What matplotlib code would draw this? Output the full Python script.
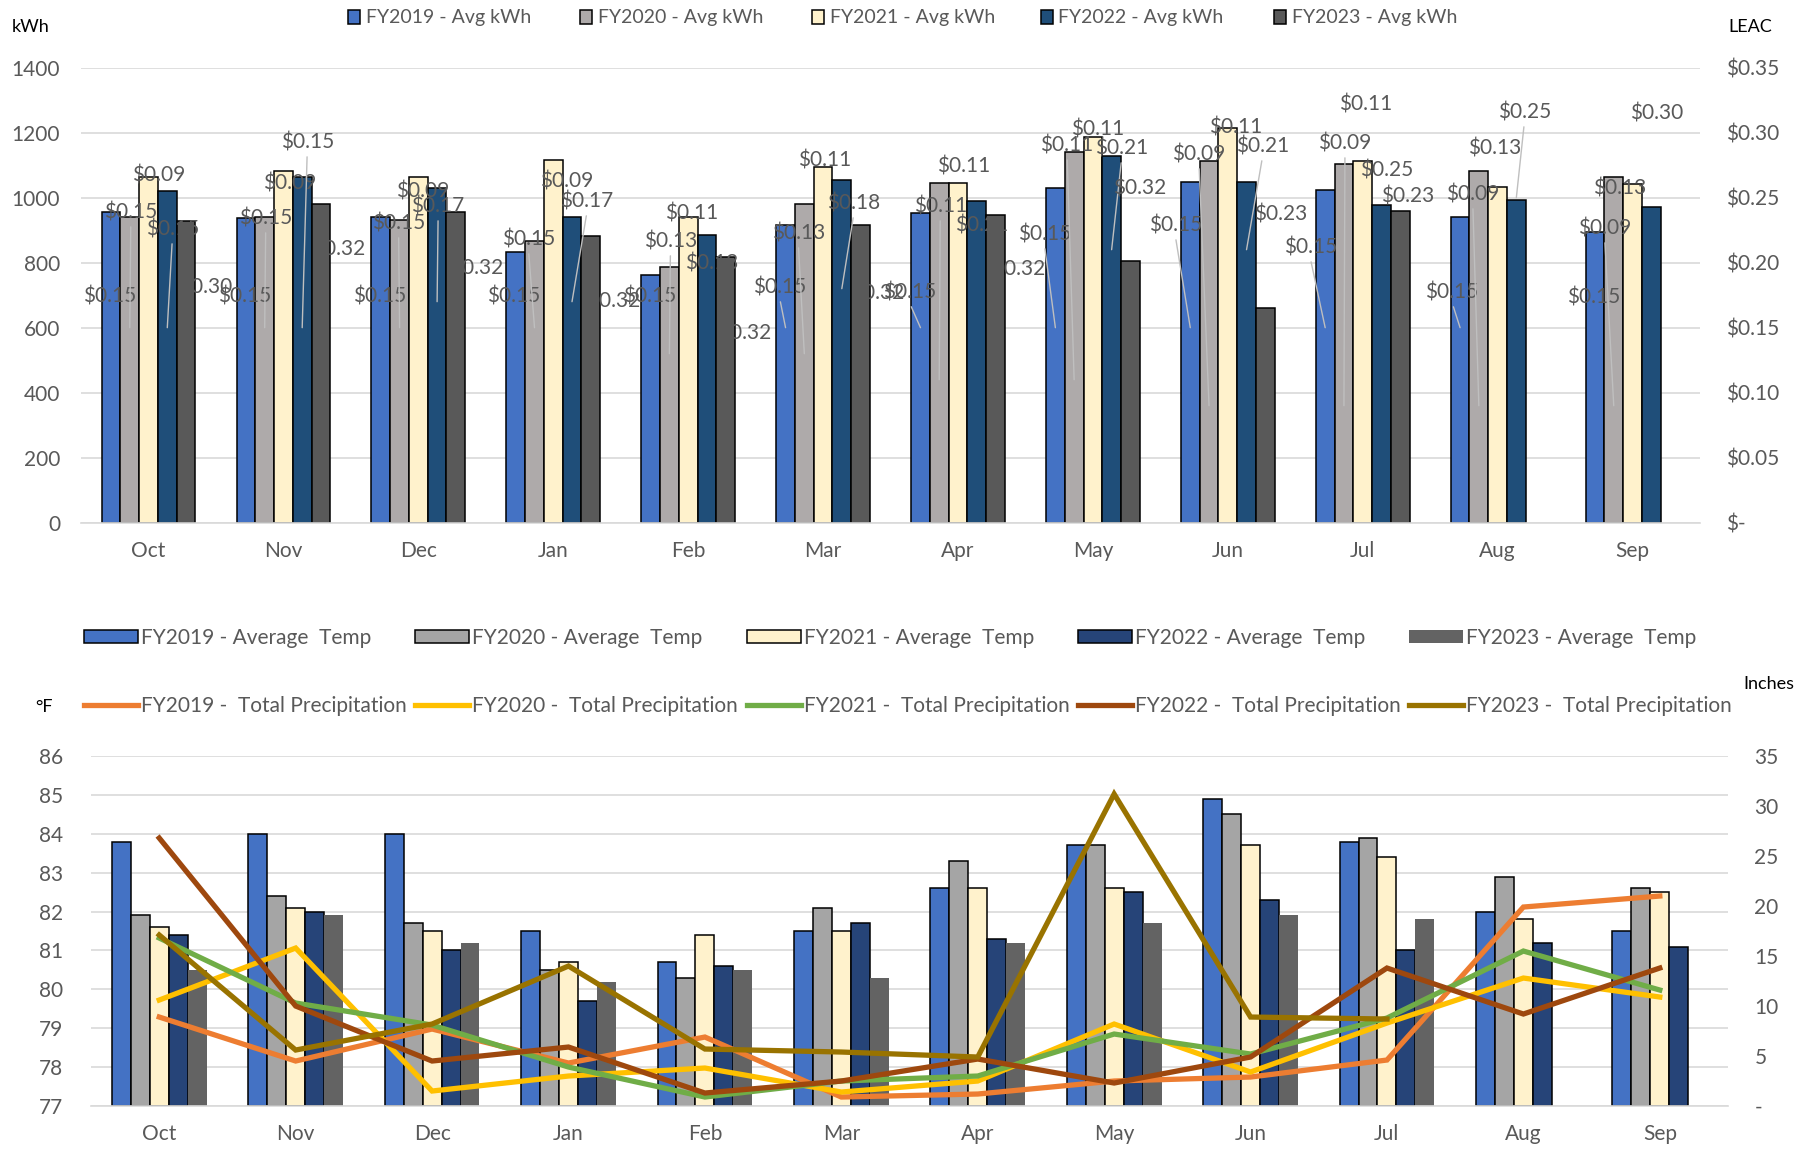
import matplotlib.pyplot as plt
import numpy as np

plt.rcParams['font.family'] = ['Lato', 'DejaVu Sans']

nan = np.nan
months = ['Oct', 'Nov', 'Dec', 'Jan', 'Feb', 'Mar', 'Apr', 'May', 'Jun', 'Jul', 'Aug', 'Sep']
years = ['FY2019', 'FY2020', 'FY2021', 'FY2022', 'FY2023']

# --- top chart: average kWh per month (left axis)
kwh_2019 = [957, 938, 941, 832, 762, 916, 952, 1029, 1049, 1023, 941, 895]
kwh_2020 = [941, 940, 931, 868, 786, 980, 1046, 1141, 1114, 1104, 1082, 1063]
kwh_2021 = [1065, 1083, 1063, 1116, 940, 1093, 1046, 1186, 1215, 1114, 1032, 1043]
kwh_2022 = [1021, 1065, 1029, 941, 884, 1053, 991, 1128, 1049, 978, 992, 972]
kwh_2023 = [929, 980, 957, 882, 818, 916, 947, 805, 661, 960, nan, nan]

# LEAC ($) shown only as data labels (right axis)
leac_2019 = [0.15, 0.15, 0.15, 0.15, 0.15, 0.15, 0.15, 0.15, 0.15, 0.15, 0.15, 0.15]
leac_2020 = [0.15, 0.15, 0.15, 0.15, 0.13, 0.13, 0.11, 0.11, 0.09, 0.09, 0.09, 0.09]
leac_2021 = [0.09, 0.09, 0.09, 0.09, 0.11, 0.11, 0.11, 0.11, 0.11, 0.11, 0.13, 0.13]
leac_2022 = [0.15, 0.15, 0.17, 0.17, 0.18, 0.18, 0.21, 0.21, 0.21, 0.25, 0.25, 0.30]
leac_2023 = [0.30, 0.32, 0.32, 0.32, 0.32, 0.32, 0.32, 0.32, 0.23, 0.23, nan, nan]

# --- bottom chart: average temp (left axis) and total precipitation (right axis)
temp_2019 = [83.8, 84.0, 84.0, 81.5, 80.7, 81.5, 82.6, 83.7, 84.9, 83.8, 82.0, 81.5]
temp_2020 = [81.9, 82.4, 81.7, 80.5, 80.3, 82.1, 83.3, 83.7, 84.5, 83.9, 82.9, 82.6]
temp_2021 = [81.6, 82.1, 81.5, 80.7, 81.4, 81.5, 82.6, 82.6, 83.7, 83.4, 81.8, 82.5]
temp_2022 = [81.4, 82.0, 81.0, 79.7, 80.6, 81.7, 81.3, 82.5, 82.3, 81.0, 81.2, 81.1]
temp_2023 = [80.5, 81.9, 81.2, 80.2, 80.5, 80.3, 81.2, 81.7, 81.9, 81.8, nan, nan]

precip_2019 = [8.9, 4.5, 7.7, 4.3, 6.9, 0.9, 1.2, 2.5, 2.9, 4.6, 19.9, 21.0]
precip_2020 = [10.6, 15.8, 1.5, 3.0, 3.8, 1.4, 2.5, 8.2, 3.4, 8.3, 12.8, 10.9]
precip_2021 = [16.8, 10.3, 8.1, 3.9, 0.9, 2.5, 3.0, 7.2, 5.2, 8.8, 15.5, 11.6]
precip_2022 = [26.8, 10.0, 4.5, 5.9, 1.3, 2.5, 4.7, 2.3, 4.9, 13.8, 9.2, 13.8]
precip_2023 = [17.1, 5.6, 8.2, 14.0, 5.7, 5.4, 4.9, 31.2, 8.9, 8.7, nan, nan]

# label placement (pixel offsets from the LEAC point, leader line flag)
lab_2019 = [(-1, 31, 0), (-1, 31, 0), (-1, 31, 0), (-2, 31, 0), (-1, 31, 0), (-6, 40, 1),
            (-11, 35, 1), (-11, 93, 1), (-15, 102, 1), (-15, 80, 1), (-8, 35, 1), (-1, 30, 0)]
lab_2020 = [(1, 115, 1), (1, 109, 1), (-1, 104, 1), (-6, 88, 1), (1, 112, 1), (-6, 120, 1),
            (1, 173, 1), (-7, 234, 1), (-10, 251, 1), (1, 262, 1), (-6, 211, 1), (-9, 177, 1)]
lab_2021 = [(10, 230, 0), (6, 222, 0), (4, 214, 0), (13, 224, 0), (3, 166, 0), (2, 219, 0),
            (6, 213, 0), (5, 250, 0), (8, 252, 0), (3, 275, 0), (-3, 205, 0), (-13, 165, 0)]
lab_2022 = [(5, 98, 1), (5, 185, 1), (1, 95, 1), (15, 100, 1), (5, 25, 0), (12, 85, 1),
            (5, 24, 0), (10, 101, 1), (16, 103, 1), (5, 27, 0), (8, 85, 1), (5, 19, 0)]
lab_2023 = [(20, -155, 0), (18, -143, 0), (21, -162, 0), (23, -195, 0), (19, -227, 0), (17, -187, 0),
            (23, -163, 0), (9, -82, 0), (15, 9, 0), (7, 27, 0), None, None]

top_colors = ['#4472C4', '#AEAAAA', '#FFF2CC', '#1F4E79', '#595959']
bot_colors = ['#4472C4', '#A5A5A5', '#FFF2CC', '#264478', '#636363']
line_colors = ['#ED7D31', '#FFC000', '#70AD47', '#9E480E', '#997300']
txt = '#595959'
grid_c = '#D9D9D9'
fs = 15

W, H = 1810, 1149
fig = plt.figure(figsize=(W / 100, H / 100), dpi=100)
x = np.arange(len(months))
w = 0.139

# ---------------- top chart
ax = fig.add_axes([0.0448, 0.5451, 0.8944, 0.3960])
ax2 = ax.twinx()
bars = []
for j, vals in enumerate([kwh_2019, kwh_2020, kwh_2021, kwh_2022, kwh_2023]):
    b = ax.bar(x + (j - 2) * w, vals, w, color=top_colors[j], edgecolor='black',
               linewidth=1.1, label=years[j] + ' - Avg kWh')
    bars.append(b)
ax.set_xlim(-0.5, 11.5)
ax.set_ylim(0, 1400)
ax.set_yticks(np.arange(0, 1401, 200))
ax.set_xticks(x)
ax.set_xticklabels(months)
ax.set_axisbelow(True)
ax.yaxis.grid(True, color=grid_c, linewidth=1.2)
ax2.set_ylim(0, 0.35)
ax2.set_yticks(np.arange(0, 0.351, 0.05))
ax2.set_yticklabels(['$-'] + ['$%.2f' % v for v in np.arange(0.05, 0.351, 0.05)])
for a in (ax, ax2):
    for s in a.spines.values():
        s.set_visible(False)
    a.tick_params(length=0, labelsize=fs, labelcolor=txt)
ax.spines['bottom'].set_visible(True)
ax.spines['bottom'].set_color(grid_c)
ax.spines['bottom'].set_linewidth(1.2)
ax.tick_params(axis='y', pad=15)
ax.tick_params(axis='x', pad=13)
ax2.tick_params(axis='y', pad=19)

for j, (leac, labs) in enumerate(zip([leac_2019, leac_2020, leac_2021, leac_2022, leac_2023],
                                     [lab_2019, lab_2020, lab_2021, lab_2022, lab_2023])):
    for i, v in enumerate(leac):
        if np.isnan(v) or labs[i] is None:
            continue
        dx, dy, lead = labs[i]
        ap = None
        if lead:
            ap = dict(arrowstyle='-', color='#BFBFBF', lw=1.0, shrinkA=1, shrinkB=0,
                      relpos=(0.5, 0) if dy > 0 else (0.5, 1))
        ax2.annotate('$%.2f' % v, xy=(x[i] + (j - 2) * w, v), xytext=(dx, dy),
                     textcoords='offset pixels', ha='center', va='center',
                     fontsize=fs, color=txt, arrowprops=ap)

# legends: one entry each, placed where the reference has them
top_leg_x = [348, 580, 812, 1041, 1274]
for h, xp in zip(bars, top_leg_x):
    fig.legend(handles=[h], loc='center left', bbox_to_anchor=(xp / W, 1 - 18 / H),
               frameon=False, fontsize=14, labelcolor=txt, handlelength=0.6,
               handleheight=0.75, handletextpad=0.3, borderpad=0, borderaxespad=0)
fig.text(0.0066, 1 - 27 / H, 'kWh', fontsize=13, va='center', color='black')
fig.text(1728 / W, 1 - 27 / H, 'LEAC', fontsize=13, va='center', color='black')

# ---------------- bottom chart
ax3 = fig.add_axes([0.0503, 0.0374, 0.9044, 0.3046])
ax4 = ax3.twinx()
tbars = []
for j, vals in enumerate([temp_2019, temp_2020, temp_2021, temp_2022, temp_2023]):
    ec = 'none' if j == 4 else 'black'
    b = ax3.bar(x + (j - 2) * w, np.array(vals) - 77, w, bottom=77, color=bot_colors[j],
                edgecolor=ec, linewidth=1.1, label=years[j] + ' - Average  Temp')
    tbars.append(b)
lines = []
for j, vals in enumerate([precip_2019, precip_2020, precip_2021, precip_2022, precip_2023]):
    ln, = ax4.plot(x, vals, color=line_colors[j], linewidth=3.8, solid_joinstyle='miter',
                   label=years[j] + ' -  Total Precipitation')
    lines.append(ln)
ax3.set_xlim(-0.5, 11.5)
ax3.set_ylim(77, 86)
ax3.set_yticks(np.arange(77, 87, 1))
ax3.set_xticks(x)
ax3.set_xticklabels(months)
ax3.set_axisbelow(True)
ax3.yaxis.grid(True, color=grid_c, linewidth=1.2)
ax4.set_ylim(0, 35)
ax4.set_yticks(np.arange(0, 36, 5))
ax4.set_yticklabels(['-'] + [str(v) for v in range(5, 36, 5)])
for a in (ax3, ax4):
    for s in a.spines.values():
        s.set_visible(False)
    a.tick_params(length=0, labelsize=fs, labelcolor=txt)
ax3.spines['bottom'].set_visible(True)
ax3.spines['bottom'].set_color(grid_c)
ax3.spines['bottom'].set_linewidth(1.2)
ax3.tick_params(axis='y', pad=20)
ax3.tick_params(axis='x', pad=13)
ax4.tick_params(axis='y', pad=19)

bot_leg_x = [84, 415, 747, 1078, 1409]
for h, xp in zip(tbars, bot_leg_x):
    fig.legend(handles=[h], loc='center left', bbox_to_anchor=(xp / W, 1 - 638 / H),
               frameon=False, fontsize=15, labelcolor=txt, handlelength=2.6,
               handleheight=0.6, handletextpad=0.15, borderpad=0, borderaxespad=0)
for h, xp in zip(lines, bot_leg_x):
    fig.legend(handles=[h], loc='center left', bbox_to_anchor=(xp / W, 1 - 706 / H),
               frameon=False, fontsize=15, labelcolor=txt, handlelength=2.6,
               handletextpad=0.15, borderpad=0, borderaxespad=0)
fig.text(44 / W, 1 - 707 / H, '°F', fontsize=13, ha='center', va='center', color='black')
fig.text(1743 / W, 1 - 684 / H, 'Inches', fontsize=13, va='center', color='black')

fig.savefig('out.png', dpi=100)
plt.close('all')
